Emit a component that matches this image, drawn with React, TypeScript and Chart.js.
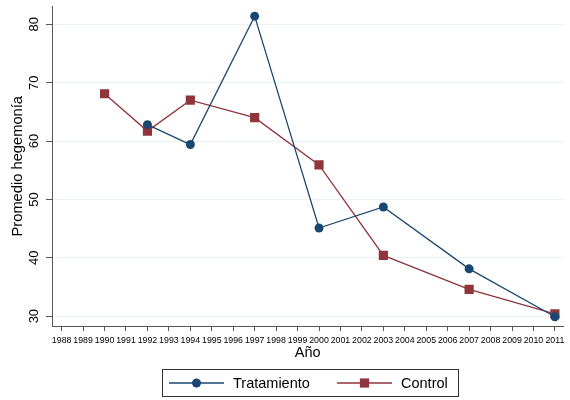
import React, { useEffect, useRef } from "react";
import { Chart, registerables } from "chart.js";

Chart.register(...registerables);

const years = [1990, 1992, 1994, 1997, 2000, 2003, 2007, 2011];
const tratamiento: (number | null)[] = [null, 62.8, 59.4, 81.4, 45.1, 48.7, 38.1, 29.9];
const control: (number | null)[] = [68.1, 61.7, 67.0, 64.0, 55.9, 40.4, 34.6, 30.4];
const yTickValues = [30, 40, 50, 60, 70, 80];
const seriesNames = ["Tratamiento", "Control"];
const xTitle = "Año";
const yTitle = "Promedio hegemonía";

const NAVY = "#1a476f";
const MAROON = "#90353b";
const FONT = "'Liberation Sans', Arial, sans-serif";

function toPoints(vals: (number | null)[]) {
  const out: { x: number; y: number }[] = [];
  years.forEach((yr, i) => {
    const v = vals[i];
    if (v !== null && v !== undefined) out.push({ x: yr, y: v });
  });
  return out;
}

const customPlugin = {
  id: "customDraw",
  afterDraw(chart: any) {
    const ctx = chart.ctx as CanvasRenderingContext2D;
    const yScale = chart.scales.y;
    ctx.save();
    ctx.fillStyle = "#000";
    ctx.font = `13px ${FONT}`;
    ctx.textAlign = "center";
    ctx.textBaseline = "middle";
    yTickValues.forEach((v) => {
      const py = yScale.getPixelForValue(v);
      ctx.save();
      ctx.translate(34.5, py);
      ctx.rotate(-Math.PI / 2);
      ctx.fillText(String(v), 0, 0);
      ctx.restore();
    });
    ctx.restore();

    // legend
    ctx.save();
    ctx.strokeStyle = "#333";
    ctx.lineWidth = 1;
    ctx.strokeRect(162.5, 369.5, 296, 27);
    const cy = 383;
    const entries = [
      { x0: 169, x1: 224, mx: 196.5, tx: 233, ds: chart.data.datasets[0] },
      { x0: 337, x1: 392, mx: 364.5, tx: 401, ds: chart.data.datasets[1] },
    ];
    entries.forEach((e) => {
      ctx.strokeStyle = e.ds.borderColor;
      ctx.lineWidth = 1.3;
      ctx.beginPath();
      ctx.moveTo(e.x0, cy);
      ctx.lineTo(e.x1, cy);
      ctx.stroke();
      ctx.fillStyle = e.ds.borderColor;
      if (e.ds.pointStyle === "rect") {
        ctx.fillRect(e.mx - 4.6, cy - 4.6, 9.2, 9.2);
      } else {
        ctx.beginPath();
        ctx.arc(e.mx, cy, 4.5, 0, Math.PI * 2);
        ctx.fill();
      }
      ctx.fillStyle = "#000";
      ctx.font = `14.5px ${FONT}`;
      ctx.textAlign = "left";
      ctx.textBaseline = "middle";
      ctx.fillText(e.ds.label, e.tx, cy + 0.5);
    });
    ctx.restore();
  },
};

export default function App() {
  const ref = useRef<HTMLCanvasElement | null>(null);
  useEffect(() => {
    if (!ref.current) return;
    const chart = new Chart(ref.current, {
      type: "line",
      data: {
        datasets: [
          {
            label: seriesNames[0],
            data: toPoints(tratamiento),
            borderColor: NAVY,
            backgroundColor: NAVY,
            borderWidth: 1.3,
            pointStyle: "circle",
            pointRadius: 4.5,
            pointBackgroundColor: NAVY,
            pointBorderColor: NAVY,
            pointBorderWidth: 0,
            tension: 0,
          },
          {
            label: seriesNames[1],
            data: toPoints(control),
            borderColor: MAROON,
            backgroundColor: MAROON,
            borderWidth: 1.3,
            pointStyle: "rect",
            pointRadius: 6.5,
            pointBackgroundColor: MAROON,
            pointBorderColor: MAROON,
            pointBorderWidth: 0,
            tension: 0,
          },
        ],
      },
      options: {
        animation: false,
        responsive: false,
        layout: { padding: { top: 3, right: 3, bottom: 38, left: 0 } },
        plugins: {
          legend: { display: false },
          tooltip: { enabled: false },
        },
        scales: {
          x: {
            type: "linear",
            min: 1987.55,
            max: 2011.4,
            afterFit: (s: any) => {
              s.height = 36;
            },
            border: { display: true, color: "#555", width: 1 },
            grid: {
              drawOnChartArea: false,
              drawTicks: true,
              tickLength: 5,
              tickColor: "#555",
            },
            ticks: {
              stepSize: 1,
              includeBounds: false,
              autoSkip: false,
              maxRotation: 0,
              minRotation: 0,
              padding: 4,
              color: "#000",
              font: { family: FONT, size: 8.8 },
              callback: (v: any) => String(v),
            },
            title: {
              display: true,
              text: xTitle,
              color: "#000",
              font: { family: FONT, size: 14.5 },
              padding: { top: 0, bottom: 0 },
            },
          },
          y: {
            type: "linear",
            min: 28.31,
            max: 83.05,
            afterFit: (s: any) => {
              s.width = 52;
            },
            border: { display: true, color: "#555", width: 1 },
            grid: {
              color: "#eaf2f3",
              lineWidth: 1,
              drawTicks: true,
              tickLength: 6,
              tickColor: "#555",
            },
            ticks: {
              display: false,
              stepSize: 10,
              includeBounds: false,
            },
            title: {
              display: true,
              text: yTitle,
              color: "#000",
              font: { family: FONT, size: 14.7 },
              padding: { top: 9.5, bottom: 0 },
            },
          },
        },
      },
      plugins: [customPlugin],
    } as any);
    return () => chart.destroy();
  }, []);
  return (
    <div style={{ position: "fixed", left: 0, top: 0, width: 570, height: 400, background: "#fff" }}>
      <canvas ref={ref} width={570} height={400} />
    </div>
  );
}
